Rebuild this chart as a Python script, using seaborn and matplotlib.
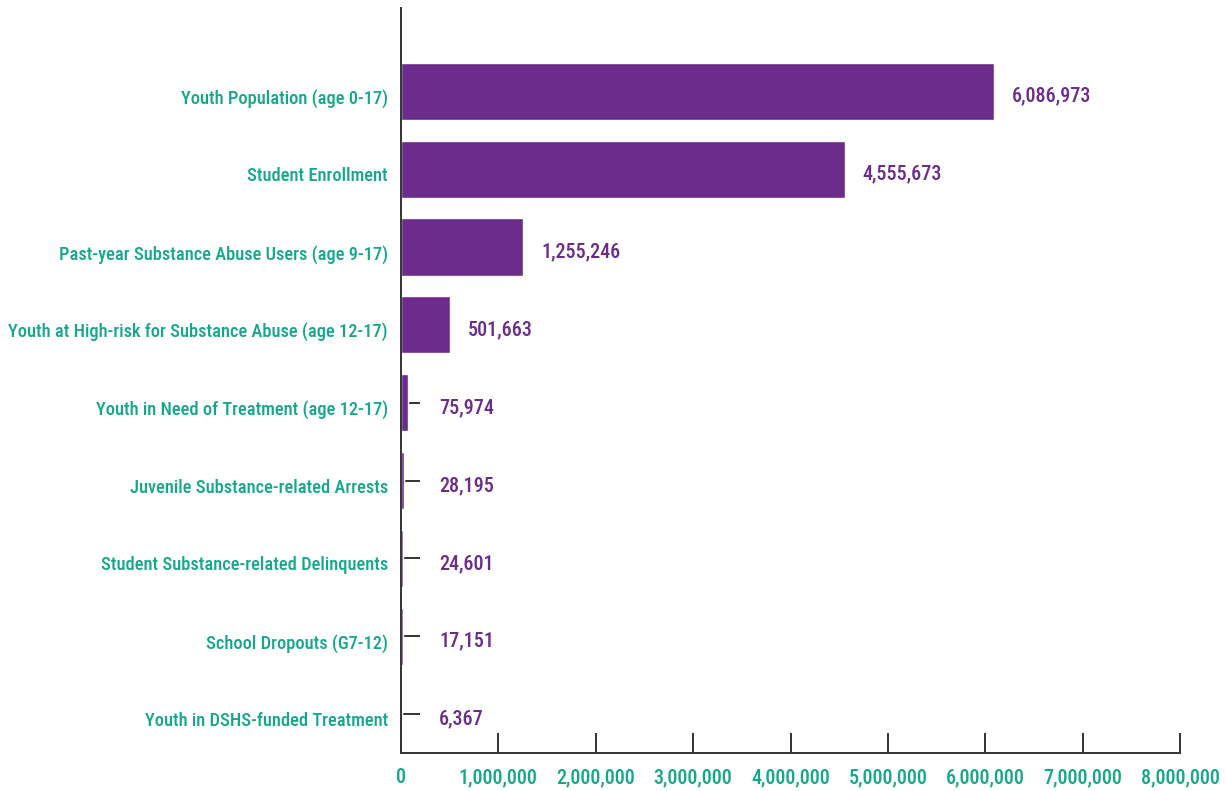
import matplotlib
matplotlib.use("Agg")
import matplotlib.pyplot as plt
from matplotlib import font_manager as fm
from matplotlib.transforms import ScaledTranslation
import seaborn as sns
import pandas as pd
from matplotlib.ticker import FuncFormatter

categories = [
    "Youth Population (age 0-17)",
    "Student Enrollment",
    "Past-year Substance Abuse Users (age 9-17)",
    "Youth at High-risk for Substance Abuse (age 12-17)",
    "Youth in Need of Treatment (age 12-17)",
    "Juvenile Substance-related Arrests",
    "Student Substance-related Delinquents",
    "School Dropouts (G7-12)",
    "Youth in DSHS-funded Treatment",
]
values = [6086973, 4555673, 1255246, 501663, 75974, 28195, 24601, 17151, 6367]
x_ticks = [0, 1000000, 2000000, 3000000, 4000000, 5000000, 6000000, 7000000, 8000000]

PURPLE = "#6B2C8C"
TEAL = "#14A88A"
AXIS = "#333333"

sns.set_theme(style="white")


def narrow_font():
    """Pick the narrowest sans family that is installed."""
    fonts = fm.fontManager.ttflist
    names = {f.name for f in fonts}
    for name in ["Liberation Sans Narrow", "Roboto Condensed", "Open Sans Condensed",
                 "Noto Sans Condensed", "DejaVu Sans Condensed", "Arial Narrow"]:
        if name in names:
            return name, "normal"
    for f in fonts:
        if str(f.stretch) in ("condensed", "semi-condensed", "extra-condensed"):
            return f.name, f.stretch
    return "Roboto", "normal"


FAMILY, STRETCH = narrow_font()
plt.rcParams["font.family"] = [FAMILY, "DejaVu Sans"]
plt.rcParams["font.stretch"] = STRETCH
plt.rcParams["font.weight"] = "medium"

fig = plt.figure(figsize=(12.26, 7.91), dpi=100)
ax = fig.add_axes([401 / 1226, 38 / 791, 779 / 1226, 745 / 791])

# size the text so the longest category name spans about 379 px
renderer = fig.canvas.get_renderer()
probe = fig.text(0, 0, max(categories, key=len), fontsize=20)
width = probe.get_window_extent(renderer).width
probe.remove()
FS = 20 * 379 / width
FS_NUM = FS * 1.09

df = pd.DataFrame({"category": categories, "value": values})
sns.barplot(data=df, x="value", y="category", orient="h", color=PURPLE,
            saturation=1, width=0.733, ax=ax, zorder=3)

ax.set_xlim(0, 8000000)
ax.set_ylim(8.5, -1.07)
ax.set_xticks(x_ticks)
ax.xaxis.set_major_formatter(FuncFormatter(lambda v, p: f"{int(v):,}"))
ax.set_xlabel("")
ax.set_ylabel("")

for side in ("top", "right"):
    ax.spines[side].set_visible(False)
for side in ("left", "bottom"):
    ax.spines[side].set_color(AXIS)
    ax.spines[side].set_linewidth(1.4)
    ax.spines[side].set_zorder(4)

ax.tick_params(axis="x", direction="in", length=14.5, width=1.4, color=AXIS,
               labelcolor=TEAL, labelsize=FS_NUM, pad=11, bottom=True)
ax.tick_params(axis="y", direction="in", length=14, width=1.4, color=AXIS,
               labelcolor=TEAL, labelsize=FS, pad=9.4, left=True)
ax.grid(False)

# category names sit a little below their tick marks
shift = ScaledTranslation(0, -5 / 100, fig.dpi_scale_trans)
for lab in ax.get_yticklabels():
    lab.set_transform(lab.get_transform() + shift)

# value labels sit past the bar end, or past the tick mark for short bars
tick_end = 20 / 779 * 8000000
for i, v in enumerate(values):
    ax.annotate(f"{v:,}", xy=(max(v, tick_end), i), xytext=(18, -5),
                textcoords="offset pixels", va="center", ha="left",
                color=PURPLE, fontsize=FS_NUM)

fig.savefig("out.png", dpi=100, facecolor="white")
